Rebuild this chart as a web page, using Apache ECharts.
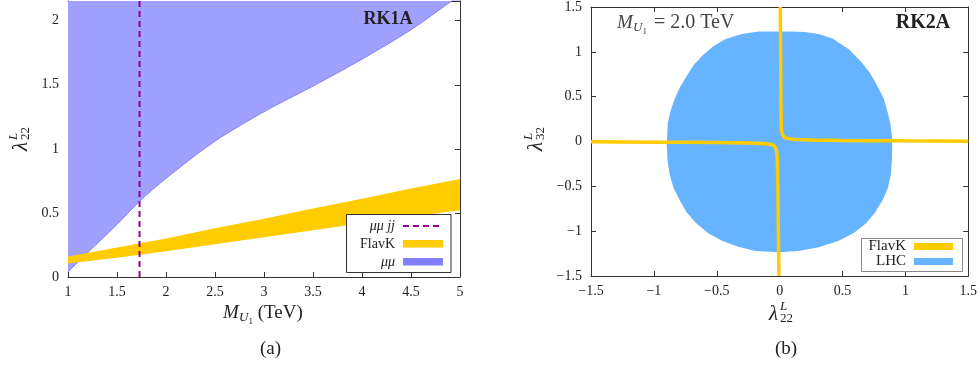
<!DOCTYPE html>
<html><head><meta charset="utf-8">
<script src="https://cdn.jsdelivr.net/npm/echarts@6/dist/echarts.min.js"></script>
<style>html,body{margin:0;padding:0;background:#fff}#c{width:980px;height:370px}</style>
</head><body><div id="c"></div>
<script>
// ---------- Panel (a): RK1A ----------
const aXTicks = [1, 1.5, 2, 2.5, 3, 3.5, 4, 4.5, 5];
const aYTicks = [0, 0.5, 1, 1.5, 2];
const aYMax = 2.154;
const mumuX = [1, 1.2, 1.5, 1.73, 2, 2.5, 3, 3.5, 4, 4.5, 4.915, 5];
const mumuBound = [0.04, 0.19, 0.41, 0.59, 0.77, 1.06, 1.29, 1.49, 1.70, 1.93, 2.154, 2.20];
const flavX = [1, 1.5, 2, 2.5, 3, 3.5, 4, 4.5, 5];
const flavLow = [0.105, 0.15, 0.20, 0.255, 0.31, 0.365, 0.42, 0.47, 0.52];
const flavHigh = [0.16, 0.23, 0.30, 0.38, 0.455, 0.535, 0.61, 0.69, 0.765];
const mumujjMass = 1.73;

// ---------- Panel (b): RK2A ----------
const bTicks = [-1.5, -1, -0.5, 0, 0.5, 1, 1.5];
const lhcX = [0, 0.1, 0.2, 0.31, 0.42, 0.55, 0.65, 0.72, 0.78, 0.83, 0.86, 0.88, 0.893, 0.895, 0.893, 0.886, 0.86, 0.82, 0.76, 0.69, 0.59, 0.466, 0.31, 0.15, 0,
  -0.19, -0.33, -0.455, -0.57, -0.665, -0.74, -0.797, -0.845, -0.876, -0.892, -0.897, -0.889, -0.868, -0.837, -0.795, -0.744, -0.685, -0.613, -0.53, -0.43, -0.3, -0.166];
const lhcY = [1.228, 1.227, 1.222, 1.198, 1.15, 1.03, 0.887, 0.76, 0.61, 0.47, 0.32, 0.2, 0.06, -0.07, -0.2, -0.36, -0.52, -0.65, -0.79, -0.91, -1.02, -1.11, -1.18, -1.22, -1.235,
  -1.22, -1.175, -1.11, -1.02, -0.91, -0.79, -0.65, -0.51, -0.36, -0.2, -0.03, 0.21, 0.34, 0.465, 0.6, 0.72, 0.85, 0.96, 1.06, 1.143, 1.2, 1.227];
const flavUpX = [0.005, 0.008, 0.01, 0.012, 0.014, 0.02, 0.03, 0.045, 0.07, 0.1, 0.15, 0.25, 0.5, 1.0, 1.5];
const flavUpY = [1.5, 1.0, 0.5, 0.25, 0.15, 0.09, 0.06, 0.042, 0.032, 0.026, 0.021, 0.016, 0.011, 0.007, 0.004];
const flavDnX = [-1.5, -1.0, -0.5, -0.25, -0.15, -0.1, -0.07, -0.05, -0.035, -0.027, -0.022, -0.018, -0.014, -0.01, -0.006];
const flavDnY = [-0.004, -0.007, -0.011, -0.018, -0.023, -0.028, -0.034, -0.045, -0.065, -0.09, -0.13, -0.22, -0.5, -1.0, -1.5];

const SERIF = '"Liberation Serif", "Times New Roman", serif';
const AX = '#333';
const pairs = (xs, ys) => xs.map((x, i) => [x, ys[i]]);
const minusFmt = v => (v < 0 ? '\u2212' + (-v) : String(v));

function xAx(grid, ticks, pos, labels, fmt) {
  return {
    type: 'value', gridIndex: grid, position: pos,
    min: ticks[0], max: ticks[ticks.length - 1], interval: ticks[1] - ticks[0],
    axisLine: { show: true, onZero: false, lineStyle: { color: AX, width: 1 } },
    axisTick: { show: true, inside: true, length: 5, lineStyle: { color: AX } },
    axisLabel: { show: labels, color: '#222', fontFamily: SERIF, fontSize: 14, margin: 8, formatter: fmt },
    splitLine: { show: false }
  };
}
function yAx(grid, ticks, max, pos, labels, fmt) {
  return {
    type: 'value', gridIndex: grid, position: pos,
    min: ticks[0], max: max, interval: ticks[1] - ticks[0],
    axisLine: { show: true, onZero: false, lineStyle: { color: AX, width: 1 } },
    axisTick: { show: true, inside: true, length: 5, lineStyle: { color: AX } },
    axisLabel: { show: labels, color: '#222', fontFamily: SERIF, fontSize: 14, margin: 9, formatter: fmt, showMaxLabel: max === ticks[ticks.length - 1] },
    splitLine: { show: false }
  };
}

function polygonSeries(name, xi, yi, pts, color, z) {
  return {
    name, type: 'custom', xAxisIndex: xi, yAxisIndex: yi, z,
    data: pts, encode: { x: 0, y: 1 },
    renderItem: (params, api) => {
      if (params.dataIndex !== 0) return;
      const p = pts.map(d => api.coord(d));
      return { type: 'polygon', shape: { points: p }, style: { fill: color } };
    }
  };
}

function txt(x, y, text, font, opts) {
  return { type: 'text', x, y, z: 20, style: Object.assign({ text, font, fill: '#222', textAlign: 'left', textVerticalAlign: 'middle' }, opts || {}) };
}
function lambdaLabel(x, y, sub, rot) {
  return {
    type: 'group', x, y, rotation: rot,
    children: [
      txt(-12, 1, '\u03BB', 'italic 21px ' + SERIF),
      txt(-1, -6, 'L', 'italic 13px ' + SERIF),
      txt(-1, 6, sub, '13px ' + SERIF)
    ]
  };
}

const bandPts = pairs(flavX, flavHigh).concat(pairs(flavX, flavLow).reverse());

const option = {
  animation: false,
  backgroundColor: '#fff',
  grid: [
    { left: 68, top: 1, width: 392, height: 276 },
    { left: 591, top: 3, width: 380, height: 273 }
  ],
  xAxis: [
    xAx(0, aXTicks, 'bottom', true),
    xAx(0, aXTicks, 'top', false),
    xAx(1, bTicks, 'bottom', true, minusFmt),
    xAx(1, bTicks, 'top', false)
  ],
  yAxis: [
    yAx(0, aYTicks, aYMax, 'left', true),
    yAx(0, aYTicks, aYMax, 'right', false),
    yAx(1, bTicks, 1.5, 'left', true, minusFmt),
    yAx(1, bTicks, 1.5, 'right', false)
  ],
  series: [
    {
      name: '\u03BC\u03BC', type: 'line', xAxisIndex: 0, yAxisIndex: 0, z: 1,
      data: pairs(mumuX, mumuBound), smooth: 0.3, symbol: 'none',
      lineStyle: { color: '#8080ff', width: 1 },
      areaStyle: { color: '#a0a0ff', opacity: 1, origin: 'end' }
    },
    polygonSeries('FlavK', 0, 0, bandPts, '#ffcc00', 2),
    {
      name: '\u03BC\u03BCjj', type: 'line', xAxisIndex: 0, yAxisIndex: 0, z: 3,
      data: [[mumujjMass, 0], [mumujjMass, aYMax]], symbol: 'none',
      lineStyle: { color: '#940094', width: 2, type: [6, 4] }
    },
    polygonSeries('LHC', 2, 2, pairs(lhcX, lhcY), '#66b3ff', 1),
    {
      name: 'FlavK', type: 'line', xAxisIndex: 2, yAxisIndex: 2, z: 3,
      data: pairs(flavUpX, flavUpY), symbol: 'none', smooth: 0.2,
      lineStyle: { color: '#ffcc00', width: 3.5 }
    },
    {
      name: 'FlavK', type: 'line', xAxisIndex: 2, yAxisIndex: 2, z: 3,
      data: pairs(flavDnX, flavDnY), symbol: 'none', smooth: 0.2,
      lineStyle: { color: '#ffcc00', width: 3.5 }
    }
  ],
  graphic: [
    txt(388, 19, 'RK1A', 'bold 18px ' + SERIF, { textAlign: 'center' }),
    { type: 'rect', z: 10, shape: { x: 346.5, y: 214.5, width: 104.5, height: 58 }, style: { fill: '#fff', stroke: '#333', lineWidth: 1 } },
    txt(395, 226, '\u03BC\u03BC jj', 'italic 14px ' + SERIF, { textAlign: 'right' }),
    { type: 'line', z: 11, shape: { x1: 403, y1: 226, x2: 443, y2: 226 }, style: { stroke: '#940094', lineWidth: 2, lineDash: [6, 4] } },
    txt(395, 244, 'FlavK', '14px ' + SERIF, { textAlign: 'right' }),
    { type: 'rect', z: 11, shape: { x: 403, y: 240, width: 40, height: 7.5 }, style: { fill: '#ffcc00' } },
    txt(395, 262, '\u03BC\u03BC', 'italic 14px ' + SERIF, { textAlign: 'right' }),
    { type: 'rect', z: 11, shape: { x: 403, y: 258, width: 40, height: 7.5 }, style: { fill: '#8080ff' } },
    txt(223, 313, 'M', 'italic 19px ' + SERIF),
    txt(239, 318, 'U', 'italic 13px ' + SERIF),
    txt(248.5, 322, '1', '9px ' + SERIF),
    txt(253, 313, ' (TeV)', '19px ' + SERIF),
    lambdaLabel(20, 139, '22', Math.PI / 2),
    txt(270.5, 349, '(a)', '19px ' + SERIF, { textAlign: 'center' }),
    txt(923, 23, 'RK2A', 'bold 20px ' + SERIF, { textAlign: 'center' }),
    txt(617, 23, 'M', 'italic 19px ' + SERIF, { fill: '#444' }),
    txt(633, 28, 'U', 'italic 13px ' + SERIF, { fill: '#444' }),
    txt(642.5, 32, '1', '9px ' + SERIF, { fill: '#444' }),
    txt(649, 23, ' = 2.0 TeV', '20px ' + SERIF, { fill: '#444' }),
    { type: 'rect', z: 10, shape: { x: 861.5, y: 238.5, width: 101, height: 33 }, style: { fill: '#fff', stroke: '#888', lineWidth: 1 } },
    txt(906, 246.5, 'FlavK', '15px ' + SERIF, { textAlign: 'right' }),
    { type: 'rect', z: 11, shape: { x: 914, y: 243, width: 39, height: 7 }, style: { fill: '#ffcc00' } },
    txt(906, 261.5, 'LHC', '15px ' + SERIF, { textAlign: 'right' }),
    { type: 'rect', z: 11, shape: { x: 914, y: 258, width: 39, height: 7 }, style: { fill: '#66b3ff' } },
    lambdaLabel(781, 313, '22', 0),
    lambdaLabel(535, 139, '32', Math.PI / 2),
    txt(786, 349, '(b)', '19px ' + SERIF, { textAlign: 'center' })
  ]
};

const chart = echarts.init(document.getElementById('c'), null, { renderer: 'canvas' });
chart.setOption(option);
</script>
</body></html>
